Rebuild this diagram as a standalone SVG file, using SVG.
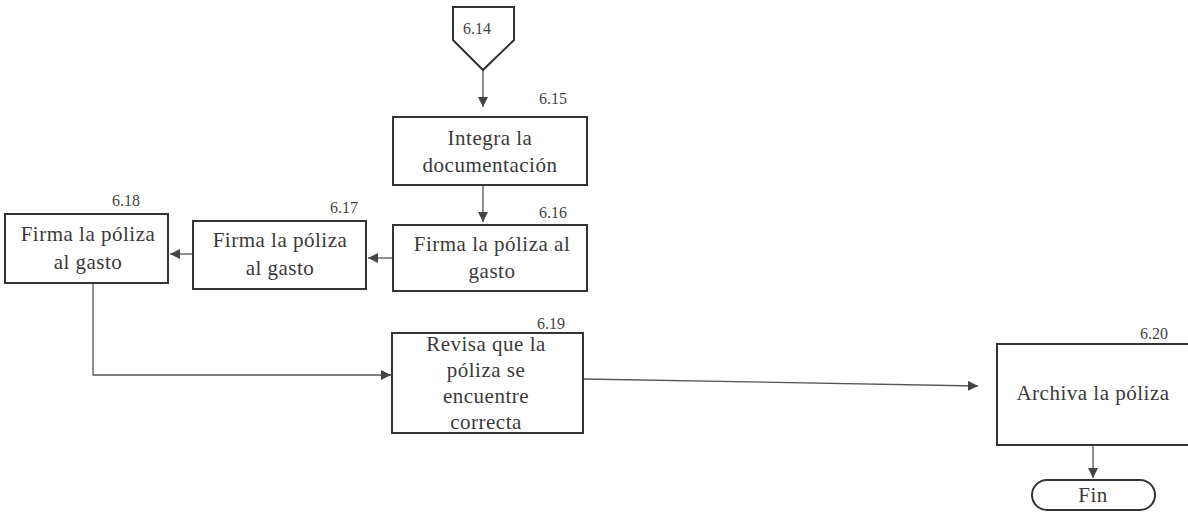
<svg xmlns="http://www.w3.org/2000/svg" width="1188" height="517" viewBox="0 0 1188 517">
<style>
.box{fill:#fff;stroke:#333;stroke-width:2}
.t{font-family:"Liberation Serif",serif;font-size:21px;letter-spacing:0.5px;fill:#3a3a3a;text-anchor:middle}
.n{font-family:"Liberation Serif",serif;font-size:16px;fill:#444;text-anchor:middle}
.c{fill:none;stroke:#555;stroke-width:1.3}
</style>
<defs>
<marker id="ah" viewBox="0 0 10 10" refX="10" refY="5" markerWidth="10" markerHeight="10" markerUnits="userSpaceOnUse" orient="auto">
<path d="M0,0 L10,5 L0,10 z" fill="#444"/>
</marker>
</defs>
<rect width="1188" height="517" fill="#fff"/>
<g id="connectors">
<path class="c" d="M483,70 V107" marker-end="url(#ah)"/>
<path class="c" d="M483,185 V222" marker-end="url(#ah)"/>
<path class="c" d="M393,258 H368" marker-end="url(#ah)"/>
<path class="c" d="M193,254 H170" marker-end="url(#ah)"/>
<path class="c" d="M93,283 V375 H391" marker-end="url(#ah)"/>
<path class="c" d="M583,379 L978,386" marker-end="url(#ah)"/>
<path class="c" d="M1093,445 V478" marker-end="url(#ah)"/>
</g>
<g id="n614">
<path class="box" d="M453,7 H514 V40 L483,70 L453,40 Z"/>
<text class="n" x="477" y="34">6.14</text>
</g>
<g id="n615">
<rect class="box" x="393" y="117" width="194" height="68"/>
<text class="n" x="553" y="104">6.15</text>
<text class="t" x="490" y="145">Integra la</text>
<text class="t" x="490" y="172">documentación</text>
</g>
<g id="n616">
<rect class="box" x="393" y="225" width="194" height="66"/>
<text class="n" x="553" y="218">6.16</text>
<text class="t" x="492" y="251">Firma la póliza al</text>
<text class="t" x="492" y="278">gasto</text>
</g>
<g id="n617">
<rect class="box" x="193" y="221" width="173" height="68"/>
<text class="n" x="344" y="213">6.17</text>
<text class="t" x="280" y="247">Firma la póliza</text>
<text class="t" x="280" y="275">al gasto</text>
</g>
<g id="n618">
<rect class="box" x="5" y="214" width="163" height="69"/>
<text class="n" x="126" y="206">6.18</text>
<text class="t" x="88" y="241">Firma la póliza</text>
<text class="t" x="88" y="269">al gasto</text>
</g>
<g id="n619">
<rect class="box" x="392" y="333" width="191" height="100"/>
<text class="n" x="551" y="329">6.19</text>
<text class="t" x="486" y="351">Revisa que la</text>
<text class="t" x="486" y="377">póliza se</text>
<text class="t" x="486" y="403">encuentre</text>
<text class="t" x="486" y="429">correcta</text>
</g>
<g id="n620">
<rect class="box" x="997" y="344" width="196" height="101"/>
<text class="n" x="1154" y="339">6.20</text>
<text class="t" x="1093" y="400">Archiva la póliza</text>
</g>
<g id="fin">
<rect class="box" x="1032" y="480" width="123" height="30" rx="15"/>
<text class="t" x="1093" y="502">Fin</text>
</g>
</svg>
